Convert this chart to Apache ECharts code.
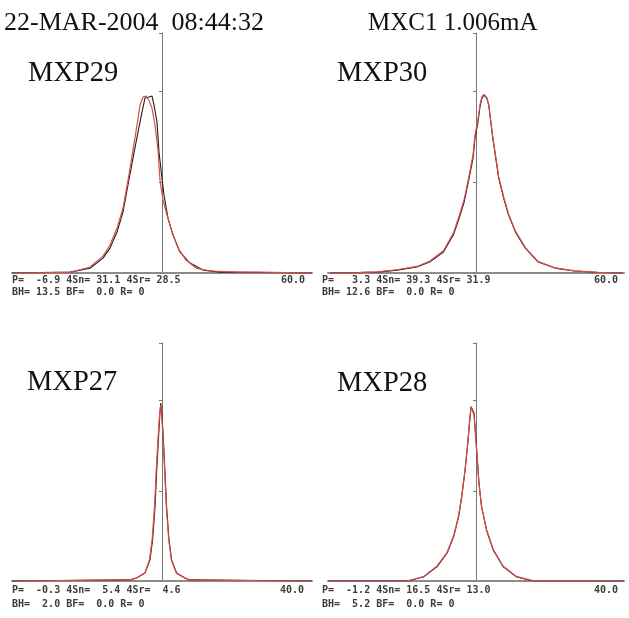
<!DOCTYPE html>
<html>
<head>
<meta charset="utf-8">
<script src="https://cdn.jsdelivr.net/npm/echarts@6/dist/echarts.min.js"></script>
<style>
html,body{margin:0;padding:0;background:#fff;}
#chart{width:629px;height:618px;}
</style>
</head>
<body>
<div id="chart"></div>
<script>
// ---- data (x: position offset, y: relative amplitude, upper tick = 100) ----
const panelNames = ['MXP29', 'MXP30', 'MXP27', 'MXP28'];
const headerLeft = '22-MAR-2004  08:44:32';
const headerRight = 'MXC1 1.006mA';
const statLine1 = [
  'P=  -6.9 4Sn= 31.1 4Sr= 28.5',
  'P=   3.3 4Sn= 39.3 4Sr= 31.9',
  'P=  -0.3 4Sn=  5.4 4Sr=  4.6',
  'P=  -1.2 4Sn= 16.5 4Sr= 13.0'
];
const statLine2 = [
  'BH= 13.5 BF=  0.0 R= 0',
  'BH= 12.6 BF=  0.0 R= 0',
  'BH=  2.0 BF=  0.0 R= 0',
  'BH=  5.2 BF=  0.0 R= 0'
];
const scaleLabels = ['60.0', '60.0', '40.0', '40.0'];

// MXP29
const mxp29BlackX = [-75, -46, -36, -29.5, -26, -22.5, -19.5, -17, -14.5, -12, -10, -8.5, -7, -5, -4, -2.5, -1.5, 0, 1, 3, 5.5, 9, 14, 20.5, 29, 75];
const mxp29BlackY = [0, 0.5, 2.6, 8.2, 13.7, 22.5, 33.5, 48.4, 63.2, 77.5, 88.5, 96.2, 96.7, 97.3, 92.3, 83, 66.5, 52.2, 42.9, 30.2, 20.9, 11.5, 5.5, 1.6, 0.5, 0];
const mxp29RedX = [-75, -46, -36, -29.5, -26, -22.5, -19.5, -17, -14.5, -12.5, -11, -9.5, -8, -6.5, -5, -3.5, -2, -1, 0.5, 2.5, 5, 8, 12, 17, 24, 39, 49, 75];
const mxp29RedY = [0, 0.3, 3.3, 9.3, 15.4, 24.7, 35.7, 51, 67.6, 81.3, 92.3, 96.7, 97.3, 95, 90.7, 81.3, 67.6, 51, 40, 31.9, 22.5, 13.7, 7.1, 2.7, 1.1, 0.5, 0.5, 0];

// MXP30
const mxp30BlackX = [-74, -60, -50, -40, -30, -23.5, -16.5, -11.5, -8.5, -6, -3.5, -1.5, -0.5, 1, 2, 3, 4, 5.5, 6.5, 7.5, 8.5, 10, 11.5, 14, 16.5, 20, 25, 31.5, 40, 50, 62, 74];
const mxp30BlackY = [0, 0.2, 0.5, 1.6, 3.3, 6, 11.5, 20.9, 30.2, 39, 52.2, 63.2, 74.2, 83, 91.2, 96.2, 97.9, 96.2, 92.3, 83, 74.2, 63.2, 52.2, 41.2, 31.9, 22.5, 13.7, 6, 2.7, 1.1, 0.3, 0];
const mxp30RedX = [-74, -60, -50, -40, -30, -23.5, -16.5, -11.5, -8.5, -6, -3.5, -1.5, -0.5, 1, 2, 3, 4, 5.5, 6.5, 7.5, 8.5, 10, 11.5, 14, 16.5, 20, 25, 31.5, 40, 50, 62, 74];
const mxp30RedY = [0, 0.2, 0.6, 1.8, 3.6, 6.5, 12.2, 21.8, 31.5, 40.5, 53.5, 65, 76, 84.5, 92.5, 97, 98.2, 96.5, 92, 83.5, 75, 64, 53, 42, 32.5, 23, 14, 6.3, 2.8, 1.2, 0.3, 0];

// MXP27
const mxp27BlackX = [-75, -16, -12.7, -8.5, -6, -4.7, -3.5, -2.7, -1.8, -1.1, -0.6, 0, 0.7, 1.5, 2.3, 3.5, 4.8, 7.3, 11.5, 14, 75];
const mxp27BlackY = [0, 0.6, 1.7, 4.4, 11.7, 22.8, 41.1, 60, 78.3, 92, 98.7, 92, 78.3, 60, 41.1, 22.8, 11.7, 4.4, 1.7, 0.6, 0];
const mxp27RedX = [-75, -16, -12.7, -8.5, -6.2, -4.9, -3.7, -2.9, -2, -1.2, -0.7, -0.1, 0.6, 1.4, 2.2, 3.4, 4.7, 7.2, 11.5, 14, 75];
const mxp27RedY = [0, 0.6, 1.7, 4.6, 12, 23.5, 42, 61, 79, 92.5, 97.5, 91, 77.5, 59, 40.5, 22.5, 11.5, 4.3, 1.6, 0.5, 0];

// MXP28
const mxp28BlackX = [-75, -34.7, -26.3, -19.7, -14.7, -11.3, -8.8, -7.2, -5.5, -4.3, -3.3, -2.5, -1.7, -1, 0, 0.7, 1.5, 2.8, 5.3, 8.7, 13.7, 20.3, 28.7, 75];
const mxp28BlackY = [0, 0, 2.4, 8, 15.4, 24.6, 35.7, 46.8, 61.7, 74.6, 87.6, 96.7, 97.8, 93.2, 78.3, 67.2, 54.3, 41.3, 28.3, 17.2, 8, 2.4, 0, 0];
const mxp28RedX = [-75, -34.7, -26.3, -19.7, -14.7, -11.3, -8.8, -7.2, -5.5, -4.3, -3.3, -2.5, -1.7, -1, 0, 0.7, 1.5, 2.8, 5.3, 8.7, 13.7, 20.3, 28.7, 75];
const mxp28RedY = [0, 0, 2.6, 8.4, 15.8, 25.2, 36.3, 47.5, 62.3, 75.2, 88, 96.5, 97, 92, 77, 66.5, 54, 41.5, 28.8, 17.6, 8.3, 2.6, 0.2, 0];

const blackSets = [[mxp29BlackX, mxp29BlackY], [mxp30BlackX, mxp30BlackY], [mxp27BlackX, mxp27BlackY], [mxp28BlackX, mxp28BlackY]];
const redSets = [[mxp29RedX, mxp29RedY], [mxp30RedX, mxp30RedY], [mxp27RedX, mxp27RedY], [mxp28RedX, mxp28RedY]];

// ---- layout ----
const grids = [
  {left: 12, top: 33, width: 300, height: 240},
  {left: 328, top: 33, width: 296, height: 240},
  {left: 12, top: 343, width: 300, height: 238},
  {left: 328, top: 343, width: 296, height: 238}
];

const chart = echarts.init(document.getElementById('chart'), null, {renderer: 'canvas'});

const xAxes = grids.map((g, i) => ({
  type: 'value', gridIndex: i, min: -75, max: 75,
  axisLine: {show: true, onZero: true, lineStyle: {color: '#8c8c8c', width: 2}},
  axisTick: {show: false}, axisLabel: {show: false}, splitLine: {show: false}
}));
const yAxes = grids.map((g, i) => ({
  type: 'value', gridIndex: i, min: 0, max: 132, interval: 50,
  axisLine: {show: true, onZero: true, lineStyle: {color: '#777', width: 1}},
  axisTick: {show: true, length: 3, lineStyle: {color: '#777'}},
  axisLabel: {show: false}, splitLine: {show: false}
}));

const series = [];
for (let i = 0; i < 4; i++) {
  series.push({
    type: 'line', xAxisIndex: i, yAxisIndex: i, showSymbol: false, animation: false,
    lineStyle: {color: '#1e1e1e', width: 1.1},
    data: blackSets[i][0].map((x, k) => [x, blackSets[i][1][k]])
  });
  series.push({
    type: 'line', xAxisIndex: i, yAxisIndex: i, showSymbol: false, animation: false,
    lineStyle: {color: '#dd4a4a', width: 1.2},
    data: redSets[i][0].map((x, k) => [x, redSets[i][1][k]])
  });
}

const serif = '"Liberation Serif", "DejaVu Serif", serif';
const mono = '"DejaVu Sans Mono", "Liberation Mono", monospace';
const graphics = [
  {type: 'text', left: 4, top: 10, style: {text: headerLeft, font: '26px ' + serif, fill: '#111'}},
  {type: 'text', left: 368, top: 11, style: {text: headerRight, font: '25px ' + serif, fill: '#111'}}
];
const namePos = [[28, 59], [337, 59], [27, 368], [337, 369]];
const statPos = [
  {x: 12, y1: 275, y2: 287, r: 305},
  {x: 322, y1: 275, y2: 287, r: 618},
  {x: 12, y1: 585, y2: 599, r: 304},
  {x: 322, y1: 585, y2: 599, r: 618}
];
for (let i = 0; i < 4; i++) {
  graphics.push({type: 'text', left: namePos[i][0], top: namePos[i][1],
    style: {text: panelNames[i], font: '28.5px ' + serif, fill: '#111'}});
  graphics.push({type: 'text', left: statPos[i].x, top: statPos[i].y1,
    style: {text: statLine1[i], font: 'bold 10px ' + mono, fill: '#3c3c3c'}});
  graphics.push({type: 'text', left: statPos[i].x, top: statPos[i].y2,
    style: {text: statLine2[i], font: 'bold 10px ' + mono, fill: '#3c3c3c'}});
  graphics.push({type: 'text', right: 629 - statPos[i].r, top: statPos[i].y1,
    style: {text: scaleLabels[i], font: 'bold 10px ' + mono, fill: '#3c3c3c'}});
}

chart.setOption({
  backgroundColor: '#fff',
  animation: false,
  grid: grids,
  xAxis: xAxes,
  yAxis: yAxes,
  series: series,
  graphic: graphics
});
</script>
</body>
</html>
